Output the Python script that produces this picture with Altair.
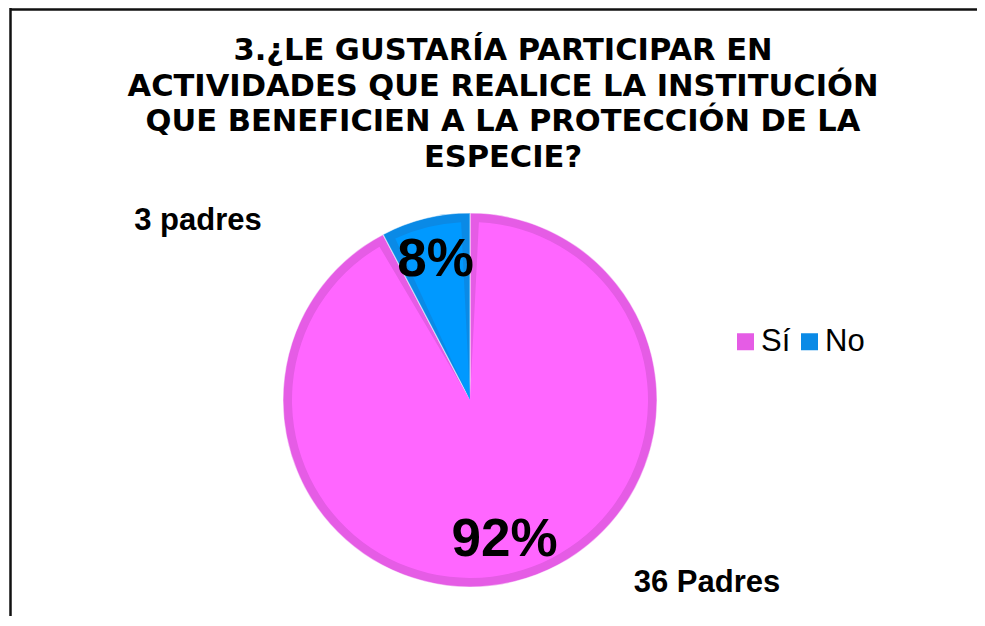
import altair as alt
import pandas as pd

categories = ["Sí", "No"]
counts = [36, 3]
pct_labels = ["92%", "8%"]
order_idx = [0, 1]
annotation_texts = ["3 padres", "36 Padres"]
title_lines = [
    "3.¿LE GUSTARÍA PARTICIPAR EN",
    "ACTIVIDADES QUE REALICE LA INSTITUCIÓN",
    "QUE BENEFICIEN A LA PROTECCIÓN DE LA",
    "ESPECIE?",
]

dark_colors = ["#E55CE5", "#0A8AE6"]
light_colors = ["#FF66FF", "#0099FF"]

df = pd.DataFrame({"cat": categories, "count": counts, "pct": pct_labels, "idx": order_idx})

FONT = "Liberation Sans"
CX, CY = 462, 392

theta = alt.Theta("count:Q", stack=True)
order = alt.Order("idx:Q")

outer = alt.Chart(df).mark_arc(outerRadius=187, stroke="#ffffff", strokeWidth=1.2, strokeOpacity=0.5).encode(
    theta=theta,
    order=order,
    x=alt.value(CX),
    y=alt.value(CY),
    color=alt.Color(
        "cat:N",
        sort=categories,
        scale=alt.Scale(domain=categories, range=dark_colors),
        legend=alt.Legend(
            title=None,
            orient="none",
            legendX=722,
            legendY=318,
            direction="horizontal",
            symbolType="square",
            symbolSize=289,
            symbolStrokeWidth=0,
            labelFontSize=31,
            labelFont=FONT,
            labelColor="#000000",
            labelOffset=0,
            columnPadding=3,
            padding=0,
        ),
    ),
)

inner = alt.Chart(df).mark_arc(outerRadius=178, padAngle=0.1).encode(
    theta=theta,
    order=order,
    x=alt.value(CX),
    y=alt.value(CY),
    color=alt.Color(
        "cat:N",
        sort=categories,
        scale=alt.Scale(domain=categories, range=light_colors),
        legend=None,
    ),
)

pct = alt.Chart(df).mark_text(
    radius=144, fontSize=53, fontWeight="bold", font=FONT, color="#000000", baseline="middle", align="center"
).encode(
    theta=theta,
    order=order,
    x=alt.value(CX),
    y=alt.value(CY),
    text="pct:N",
)

ann_df = pd.DataFrame({"t": annotation_texts})
ann1 = alt.Chart(ann_df.iloc[[0]]).mark_text(
    fontSize=31, fontWeight="bold", font=FONT, color="#000000", align="center", baseline="alphabetic"
).encode(text="t:N", x=alt.value(190), y=alt.value(222))
ann2 = alt.Chart(ann_df.iloc[[1]]).mark_text(
    fontSize=31, fontWeight="bold", font=FONT, color="#000000", align="center", baseline="alphabetic"
).encode(text="t:N", x=alt.value(699), y=alt.value(584))

title = alt.Chart(pd.DataFrame({"t": [title_lines]})).mark_text(
    fontSize=30.5, fontWeight="bold", font="DejaVu Sans", color="#000000", align="center",
    baseline="alphabetic", lineHeight=35.5,
).encode(text="t", x=alt.value(495), y=alt.value(52))

frame_top = alt.Chart(pd.DataFrame({"a": [0]})).mark_rule(color="#111111", strokeWidth=2.5).encode(
    x=alt.value(2), x2=alt.value(990), y=alt.value(1.5)
)
frame_left = alt.Chart(pd.DataFrame({"a": [0]})).mark_rule(color="#111111", strokeWidth=2.5).encode(
    x=alt.value(2.5), y=alt.value(0), y2=alt.value(640)
)

chart = alt.layer(outer, inner, pct, ann1, ann2, title, frame_top, frame_left).resolve_scale(
    color="independent", theta="shared"
).properties(
    width=969, height=608, padding=0, autosize=alt.AutoSizeParams(type="none")
).configure_view(stroke=None)

chart.save("out.html", embed_options={"renderer": "svg", "actions": False})
